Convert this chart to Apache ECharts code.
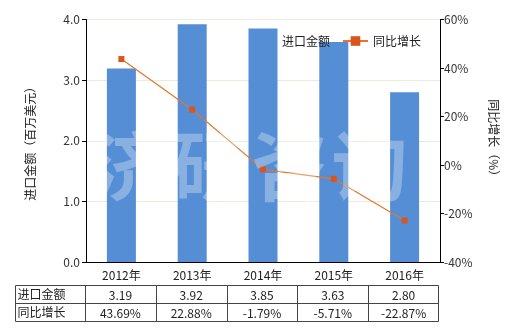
<!DOCTYPE html>
<html><head><meta charset="utf-8">
<script src="https://cdn.jsdelivr.net/npm/echarts@6/dist/echarts.min.js"></script>
<style>html,body{margin:0;padding:0;background:#fff}#c{width:520px;height:330px}</style>
</head><body><div id="c"></div>
<script>
var categories = ['2012年','2013年','2014年','2015年','2016年'];
var importValues = [3.19, 3.92, 3.85, 3.63, 2.80];
var growthValues = [43.69, 22.88, -1.79, -5.71, -22.87];
var importLabels = ['3.19','3.92','3.85','3.63','2.80'];
var growthLabels = ['43.69%','22.88%','-1.79%','-5.71%','-22.87%'];
var rowNames = ['进口金额','同比增长'];

var FONT = '"Noto Sans CJK SC","Noto Sans",sans-serif';
var chart = echarts.init(document.getElementById('c'), null, {renderer:'canvas'});
var option = {
  animation:false,
  textStyle:{fontFamily:FONT},
  grid:{left:86, right:80, top:19.5, bottom:68, containLabel:false},
  legend:{
    data:[{name:'进口金额'},{name:'同比增长'}],
    left:247, top:30, itemWidth:25, itemHeight:12, itemGap:12,
    textStyle:{fontSize:12, color:'#222', fontFamily:FONT}
  },
  xAxis:{
    type:'category', data:categories,
    axisLine:{lineStyle:{color:'#000'}},
    axisTick:{show:false},
    axisLabel:{fontSize:12, color:'#222', margin:7}
  },
  yAxis:[{
    type:'value', min:0, max:4, interval:1,
    name:'进口金额（百万美元）', nameLocation:'middle', nameGap:50, nameRotate:90,
    nameTextStyle:{fontSize:12, color:'#222'},
    axisLine:{show:true, lineStyle:{color:'#000'}},
    axisTick:{show:true, length:4, lineStyle:{color:'#000'}},
    axisLabel:{fontSize:12, color:'#333', margin:6, formatter:function(v){return v.toFixed(1);}},
    splitLine:{show:true, lineStyle:{color:'#ebebdc'}}
  },{
    type:'value', min:-40, max:60, interval:20, position:'right',
    name:'同比增长（%）', nameLocation:'middle', nameGap:48, nameRotate:-90,
    nameTextStyle:{fontSize:12, color:'#222'},
    axisLine:{show:true, lineStyle:{color:'#000'}},
    axisTick:{show:true, length:4, lineStyle:{color:'#000'}},
    axisLabel:{fontSize:12, color:'#333', margin:4, formatter:'{value}%'},
    splitLine:{show:false}
  }],
  series:[{
    name:'进口金额', type:'bar', data:importValues, barWidth:29,
    itemStyle:{color:'#558ed5'}
  },{
    name:'同比增长', type:'line', yAxisIndex:1, data:growthValues,
    symbol:'rect', symbolSize:6,
    lineStyle:{color:'#e0772a', width:1.2},
    itemStyle:{color:'#d9541e'}
  }]
};
chart.setOption(option);

// watermark and data table
var g = [];
var wm = ['济','研','咨','询'];
var mid = chart.convertToPixel({yAxisIndex:0}, 2) + 25;
for (var i=0;i<wm.length;i++){
  var cx = chart.convertToPixel({xAxisIndex:0}, categories[0]) + 8 + i*80;
  g.push({type:'text', z:100, style:{text:wm[i], x:cx, y:mid, fontSize:76, fontWeight:'bold',
    fontFamily:FONT, fill:'rgba(255,255,255,0.3)', align:'center', verticalAlign:'middle'}});
}
var c0 = chart.convertToPixel({xAxisIndex:0}, categories[0]);
var c1 = chart.convertToPixel({xAxisIndex:0}, categories[1]);
var band = c1 - c0;
var tLeft = 15.5, tTop = 285.5, rowH = 18;
var firstRight = c0 - band/2 - 0.5;
var tRight = chart.convertToPixel({xAxisIndex:0}, categories[categories.length-1]) + band/2 - 1.5;
var lc = '#444';
g.push({type:'rect', shape:{x:tLeft, y:tTop, width:tRight-tLeft, height:rowH*2}, style:{fill:null, stroke:lc, lineWidth:1}});
g.push({type:'line', shape:{x1:tLeft, y1:tTop+rowH, x2:tRight, y2:tTop+rowH}, style:{stroke:lc, lineWidth:1}});
var bounds = [firstRight];
for (var i=1;i<categories.length;i++){
  bounds.push(Math.round(chart.convertToPixel({xAxisIndex:0}, categories[i]) - band/2) - 0.5);
}
bounds.forEach(function(x){
  g.push({type:'line', shape:{x1:x, y1:tTop, x2:x, y2:tTop+rowH*2}, style:{stroke:lc, lineWidth:1}});
});
var rows = [importLabels, growthLabels];
for (var r=0;r<2;r++){
  g.push({type:'text', style:{text:rowNames[r], x:tLeft+2, y:tTop+rowH*r+rowH/2, fontSize:12, fontFamily:FONT, fill:'#222', verticalAlign:'middle'}});
  for (var i=0;i<categories.length;i++){
    var cx = chart.convertToPixel({xAxisIndex:0}, categories[i]) - 1;
    g.push({type:'text', style:{text:rows[r][i], x:cx, y:tTop+rowH*r+rowH/2+1, fontSize:12, fontFamily:FONT, fill:'#222', align:'center', verticalAlign:'middle'}});
  }
}
chart.setOption({graphic:g});
</script></body></html>
